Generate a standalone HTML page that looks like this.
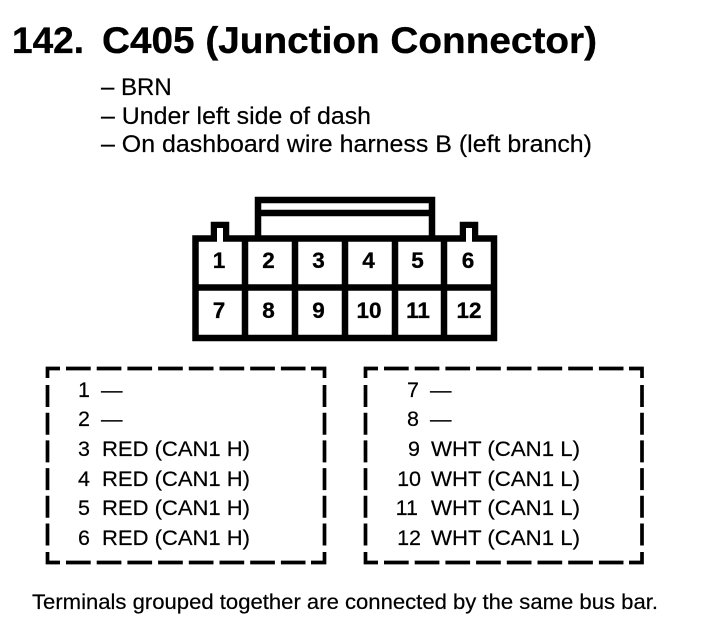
<!DOCTYPE html>
<html><head><meta charset="utf-8"><style>
html,body{margin:0;padding:0;background:#fff;width:704px;height:640px;overflow:hidden}
svg{display:block}
text{font-family:"Liberation Sans",sans-serif;fill:#000;stroke:#000;stroke-width:.2}
.t{font-size:37px;font-weight:bold;stroke-width:.35}
.s{font-size:24px}
.l{font-size:21.5px}
.n{font-size:22.5px;font-weight:bold;text-anchor:middle;stroke-width:.3}
.r{text-anchor:end}
.f{font-size:21px}
</style></head><body>
<svg width="704" height="640" viewBox="0 0 704 640" xmlns="http://www.w3.org/2000/svg">
<rect width="704" height="640" fill="#fff"/>
<text class="t" x="12" y="53">142.</text>
<text class="t" x="102" y="53" textLength="495" lengthAdjust="spacingAndGlyphs">C405 (Junction Connector)</text>
<text class="s" x="101" y="95">– BRN</text>
<text class="s" x="101" y="124" textLength="270" lengthAdjust="spacingAndGlyphs">– Under left side of dash</text>
<text class="s" x="101" y="152" textLength="491" lengthAdjust="spacingAndGlyphs">– On dashboard wire harness B (left branch)</text>

<g fill="none" stroke="#000" stroke-width="6.5">
<path d="M258 238V200H432V238"/>
<path d="M258 213H432"/>
<path d="M214 238V225H226V238"/>
<path d="M463 238V225H475V238"/>
<rect x="195.500" y="238.500" width="298.500" height="99.500"/>
<path d="M245 238V338M295 238V338M345 238V338M395 238V338M444 238V338M195 287.500H494"/>
</g>
<rect x="217" y="228" width="6" height="14" fill="#fff"/>
<rect x="466" y="228" width="6" height="14" fill="#fff"/>
<g class="nums">
<text class="n" x="219" y="268">1</text><text class="n" x="268.500" y="268">2</text><text class="n" x="318.500" y="268">3</text><text class="n" x="368.500" y="268">4</text><text class="n" x="417.500" y="268">5</text><text class="n" x="468" y="268">6</text>
<text class="n" x="219" y="318">7</text><text class="n" x="268.500" y="318">8</text><text class="n" x="318.500" y="318">9</text><text class="n" x="369" y="318">10</text><text class="n" x="418" y="318">11</text><text class="n" x="469" y="318">12</text>
</g>

<g fill="none" stroke="#000" stroke-width="3.7">
<path d="M47.500 378V368.500H60"/>
<path d="M66 368.500H305.500" stroke-dasharray="24.700 6"/>
<path d="M311 368.500H324.500V378"/>
<path d="M47.500 385V546" stroke-dasharray="22 5.700"/>
<path d="M324.500 385V546" stroke-dasharray="22 5.700"/>
<path d="M47.500 552V562.500H60"/>
<path d="M66 562.500H305.500" stroke-dasharray="24.700 6"/>
<path d="M311 562.500H324.500V552"/>

<path d="M365.500 378V368.500H378"/>
<path d="M384 368.500H623.500" stroke-dasharray="24.700 6"/>
<path d="M629 368.500H642V378"/>
<path d="M365.500 385V546" stroke-dasharray="22 5.700"/>
<path d="M642 385V546" stroke-dasharray="22 5.700"/>
<path d="M365.500 552V562.500H378"/>
<path d="M384 562.500H623.500" stroke-dasharray="24.700 6"/>
<path d="M629 562.500H642V552"/>
</g>

<g class="l">
<text class="l r" x="90" y="397">1</text><text class="l" x="101" y="397">—</text>
<text class="l r" x="90" y="426">2</text><text class="l" x="101" y="426">—</text>
<text class="l r" x="90" y="456">3</text><text class="l" x="102" y="456" textLength="148" lengthAdjust="spacingAndGlyphs">RED (CAN1 H)</text>
<text class="l r" x="90" y="486">4</text><text class="l" x="102" y="486" textLength="148" lengthAdjust="spacingAndGlyphs">RED (CAN1 H)</text>
<text class="l r" x="90" y="515">5</text><text class="l" x="102" y="515" textLength="148" lengthAdjust="spacingAndGlyphs">RED (CAN1 H)</text>
<text class="l r" x="90" y="545">6</text><text class="l" x="102" y="545" textLength="148" lengthAdjust="spacingAndGlyphs">RED (CAN1 H)</text>

<text class="l r" x="419" y="397">7</text><text class="l" x="430" y="397">—</text>
<text class="l r" x="419" y="426">8</text><text class="l" x="430" y="426">—</text>
<text class="l r" x="420" y="456">9</text><text class="l" x="431" y="456" textLength="149" lengthAdjust="spacingAndGlyphs">WHT (CAN1 L)</text>
<text class="l r" x="421" y="486">10</text><text class="l" x="431" y="486" textLength="149" lengthAdjust="spacingAndGlyphs">WHT (CAN1 L)</text>
<text class="l r" x="418" y="515">11</text><text class="l" x="431" y="515" textLength="149" lengthAdjust="spacingAndGlyphs">WHT (CAN1 L)</text>
<text class="l r" x="421" y="545">12</text><text class="l" x="431" y="545" textLength="149" lengthAdjust="spacingAndGlyphs">WHT (CAN1 L)</text>
</g>

<text class="f" x="32" y="609" textLength="626" lengthAdjust="spacingAndGlyphs">Terminals grouped together are connected by the same bus bar.</text>
</svg>
</body></html>
